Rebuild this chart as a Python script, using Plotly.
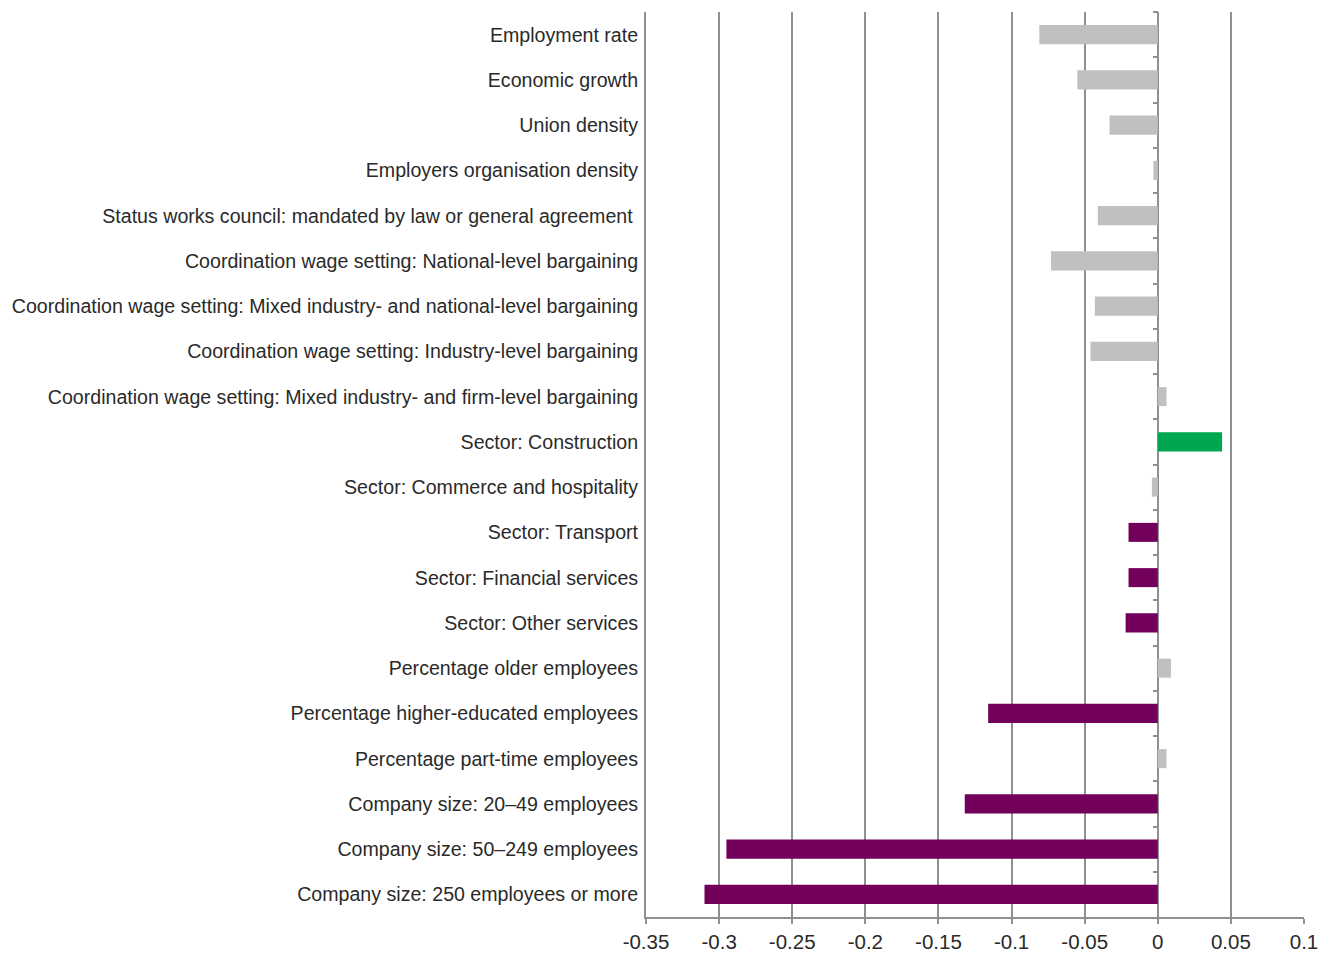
import plotly.graph_objects as go

categories = [
    "Employment rate",
    "Economic growth",
    "Union density",
    "Employers organisation density",
    "Status works council: mandated by law or general agreement ",
    "Coordination wage setting: National-level bargaining",
    "Coordination wage setting: Mixed industry- and national-level bargaining",
    "Coordination wage setting: Industry-level bargaining",
    "Coordination wage setting: Mixed industry- and firm-level bargaining",
    "Sector: Construction",
    "Sector: Commerce and hospitality",
    "Sector: Transport",
    "Sector: Financial services",
    "Sector: Other services",
    "Percentage older employees",
    "Percentage higher-educated employees",
    "Percentage part-time employees",
    "Company size: 20\u201349 employees",
    "Company size: 50\u2013249 employees",
    "Company size: 250 employees or more",
]
values = [
    -0.081, -0.055, -0.033, -0.003, -0.041, -0.073, -0.043, -0.046, 0.006, 0.044,
    -0.004, -0.020, -0.020, -0.022, 0.009, -0.116, 0.006, -0.132, -0.295, -0.310,
]
# g = not significant, n = significant negative, p = significant positive
signif = ["g", "g", "g", "g", "g", "g", "g", "g", "g", "p",
          "g", "n", "n", "n", "g", "n", "g", "n", "n", "n"]
x_ticks = [-0.35, -0.3, -0.25, -0.2, -0.15, -0.1, -0.05, 0, 0.05, 0.1]
x_range = [-0.35, 0.1]

COLORS = {"g": "#bfc0c2", "n": "#72005a", "p": "#00a650"}
GRID = "#8f8f8f"
TEXT = "#2a2a2a"
FONT = "Liberation Sans"

fig = go.Figure()
fig.add_trace(
    go.Bar(
        x=values,
        y=categories,
        orientation="h",
        marker=dict(color=[COLORS[s] for s in signif], line=dict(width=0)),
        width=0.42,
        showlegend=False,
        hoverinfo="x+y",
    )
)
# invisible trace carrying the category labels on the left edge
fig.add_trace(
    go.Scatter(
        x=[None] * len(categories),
        y=categories,
        yaxis="y2",
        mode="markers",
        showlegend=False,
        hoverinfo="skip",
    )
)

zero_pos = (0 - x_range[0]) / (x_range[1] - x_range[0])
n = len(categories)
y_range = [n - 0.5, -0.5]

fig.update_layout(
    width=1331,
    height=955,
    paper_bgcolor="white",
    plot_bgcolor="white",
    font=dict(family=FONT, color=TEXT, size=19.6),
    margin=dict(l=646, r=27, t=12, b=38, autoexpand=False),
    xaxis=dict(
        range=x_range,
        tickvals=x_ticks,
        ticktext=[f"{v:g}" for v in x_ticks],
        showgrid=True,
        gridcolor=GRID,
        gridwidth=2,
        zeroline=True,
        zerolinecolor=GRID,
        zerolinewidth=2,
        showline=True,
        linecolor=GRID,
        linewidth=2,
        ticks="outside",
        ticklen=5,
        tickwidth=1.5,
        tickcolor=GRID,
        tickfont=dict(size=20.5, color=TEXT),
        fixedrange=True,
    ),
    yaxis=dict(
        categoryorder="array",
        categoryarray=categories,
        range=y_range,
        anchor="free",
        position=zero_pos,
        showline=False,
        showgrid=False,
        showticklabels=False,
        ticks="outside",
        tickson="boundaries",
        ticklen=5,
        tickwidth=1.5,
        tickcolor=GRID,
        fixedrange=True,
    ),
    yaxis2=dict(
        overlaying="y",
        matches="y",
        categoryorder="array",
        categoryarray=categories,
        range=y_range,
        anchor="x",
        side="left",
        showline=True,
        linecolor=GRID,
        linewidth=2,
        showgrid=False,
        ticks="",
        ticklabelstandoff=2,
        tickfont=dict(size=19.6, color=TEXT),
        fixedrange=True,
    ),
    bargap=0.58,
)

# drop the default page margin so the figure fills the window exactly
fig.write_html(
    "out.html",
    config={"displayModeBar": False},
    post_script="document.body.style.margin='0';document.body.style.overflow='hidden';",
)
